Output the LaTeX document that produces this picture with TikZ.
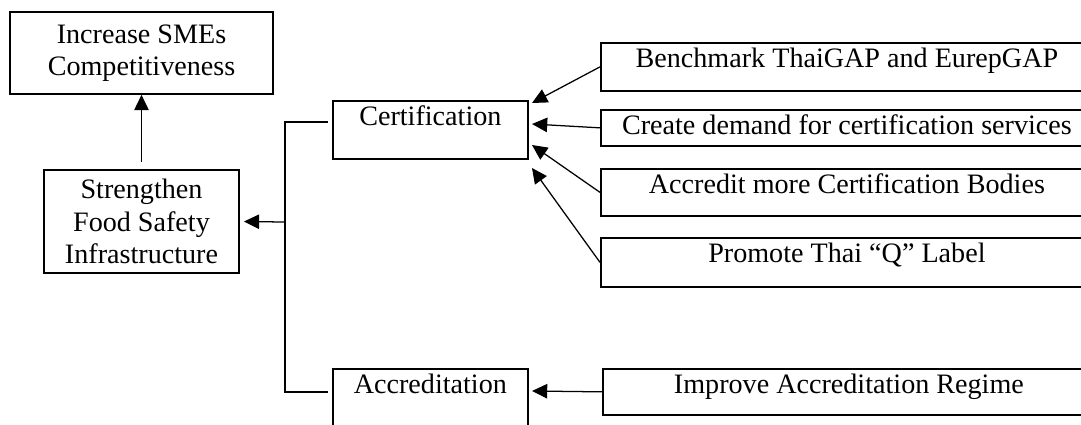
\documentclass[tikz,border=0pt]{standalone}
\usepackage{fontspec}
\setmainfont{Liberation Serif}
\usetikzlibrary{arrows.meta, positioning}

\begin{document}
\begin{tikzpicture}[x=0.025cm, y=-0.025cm, >={Triangle[length=0.38cm, width=0.36cm]},
  font=\fontsize{20}{23.2}\selectfont,
  box/.style={draw, line width=1.2pt, inner sep=0pt},
  leaf/.style={box, anchor=north west, minimum width=12.3cm, text height=0.625cm},
  mid/.style={box, anchor=north west, minimum width=4.875cm, text height=0.625cm},
  arr/.style={->, line width=0.9pt}]

  \clip (0,0) rectangle (1081,424);

  \node[box, align=center, minimum width=6.575cm, minimum height=2.05cm] (sme) at (141.5,53)
    {Increase SMEs\\Competitiveness};
  \node[box, align=center, minimum width=4.875cm, minimum height=2.575cm] (food) at (141.5,221.5)
    {Strengthen\\Food Safety\\Infrastructure};

  \node[mid, text depth=0.825cm] (cert) at (332,100) {Certification};
  \node[mid, text depth=1.05cm]  (accr) at (332,368) {Accreditation};

  \node[leaf, text depth=0.575cm] (bench)  at (600,42)  {Benchmark ThaiGAP and EurepGAP};
  \node[leaf, text depth=0.275cm] (demand) at (600,109) {Create demand for certification services};
  \node[leaf, text depth=0.55cm]  (cbody)  at (600,168) {Accredit more Certification Bodies};
  \node[leaf, text depth=0.6cm]   (qlabel) at (600,237) {Promote Thai ``Q'' Label};
  \node[leaf, text depth=0.525cm] (regime) at (602,368) {Improve Accreditation Regime};

  \coordinate (spine)  at (285,222);
  \coordinate (certin) at (328,122);
  \coordinate (accrin) at (328,392);
  \coordinate (t1) at (532,103);
  \coordinate (t2) at (532,124);
  \coordinate (t3) at (532,145);
  \coordinate (t4) at (532,168);
  \coordinate (t5) at (532,391);

  \draw[arr, shorten <=0.175cm] (food.north) -- (sme.south);
  \draw[line width=0.9pt] (certin) -| (spine) |- (accrin);
  \draw[arr, shorten >=0.1cm] (spine) -- (food.east);

  \foreach \s/\t in {bench/t1, demand/t2, cbody/t3, qlabel/t4, regime/t5}
    \draw[arr] (\s.west) -- (\t);

\end{tikzpicture}
\end{document}
